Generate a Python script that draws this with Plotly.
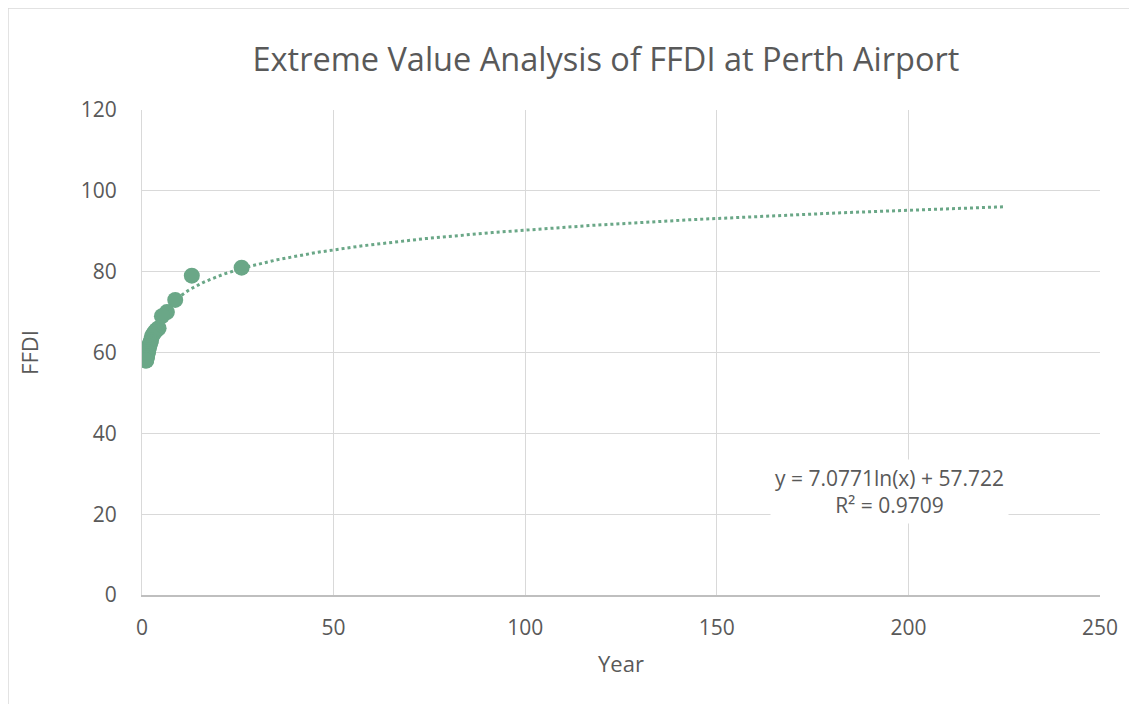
import numpy as np
import plotly.graph_objects as go

# Return periods (years) and annual max FFDI
return_period = [26, 13, 8.67, 6.5, 5.2, 4.33, 3.71, 3.25, 2.89, 2.6, 2.36, 2.17, 2.0,
                 1.86, 1.73, 1.63, 1.53, 1.44, 1.37, 1.3, 1.24, 1.18, 1.13, 1.08, 1.04]
ffdi = [81, 79, 73, 70, 69, 66, 65.5, 65, 64.5, 64, 63, 62.5, 62, 61.5, 61, 60.5,
        60, 60, 59.5, 59, 59, 58.5, 58.5, 58, 58]

# Trendline coefficients (as shown)
coef_a = 7.0771
coef_b = 57.722
trend_x = np.linspace(1, 225, 400)
trend_y = coef_a * np.log(trend_x) + coef_b

color = "#6aa787"
font = "Open Sans"

fig = go.Figure()
fig.add_trace(go.Scatter(x=trend_x, y=trend_y, mode="lines",
                         line=dict(color=color, width=3, dash="dot"),
                         hoverinfo="skip", showlegend=False))
fig.add_trace(go.Scatter(x=return_period, y=ffdi, mode="markers",
                         marker=dict(color=color, size=16), showlegend=False))

fig.update_layout(
    width=1137, height=704,
    margin=dict(l=134, r=45, t=102, b=117),
    paper_bgcolor="white", plot_bgcolor="white",
    font=dict(family=font, color="#595959", size=21),
    title=dict(text="Extreme Value Analysis of FFDI at Perth Airport",
               xref="paper", x=0.4843, xanchor="center", y=0.926, yanchor="middle",
               font=dict(size=32.5, color="#595959", family=font)),
    xaxis=dict(range=[0, 250], dtick=50, showgrid=True, gridcolor="#d9d9d9",
               gridwidth=1, zeroline=False, showline=True, linecolor="#bfbfbf",
               linewidth=1.5, ticks="", tickfont=dict(size=21),
               ticklabelstandoff=13,
               title=dict(text="Year", font=dict(size=22), standoff=17)),
    yaxis=dict(range=[0, 120], dtick=20, showgrid=True, gridcolor="#d9d9d9",
               gridwidth=1, zeroline=False, showline=True, linecolor="#d9d9d9",
               linewidth=1, ticks="", tickfont=dict(size=21),
               ticklabelstandoff=20,
               title=dict(text="FFDI", font=dict(size=22), standoff=36)),
    shapes=[dict(type="rect", xref="paper", yref="paper",
                 x0=-0.1399, x1=1.05, y0=-0.4, y1=1.2103,
                 line=dict(color="#d9d9d9", width=1.5), fillcolor="rgba(0,0,0,0)",
                 layer="below")],
    annotations=[dict(text="y = 7.0771ln(x) + 57.722<br>R² = 0.9709",
                      xref="paper", yref="paper", x=0.7805, y=0.2125,
                      xanchor="center", yanchor="middle", showarrow=False,
                      bgcolor="white", borderpad=4, align="center",
                      font=dict(size=21, color="#595959", family=font))],
)

fig.write_html("out.html")
